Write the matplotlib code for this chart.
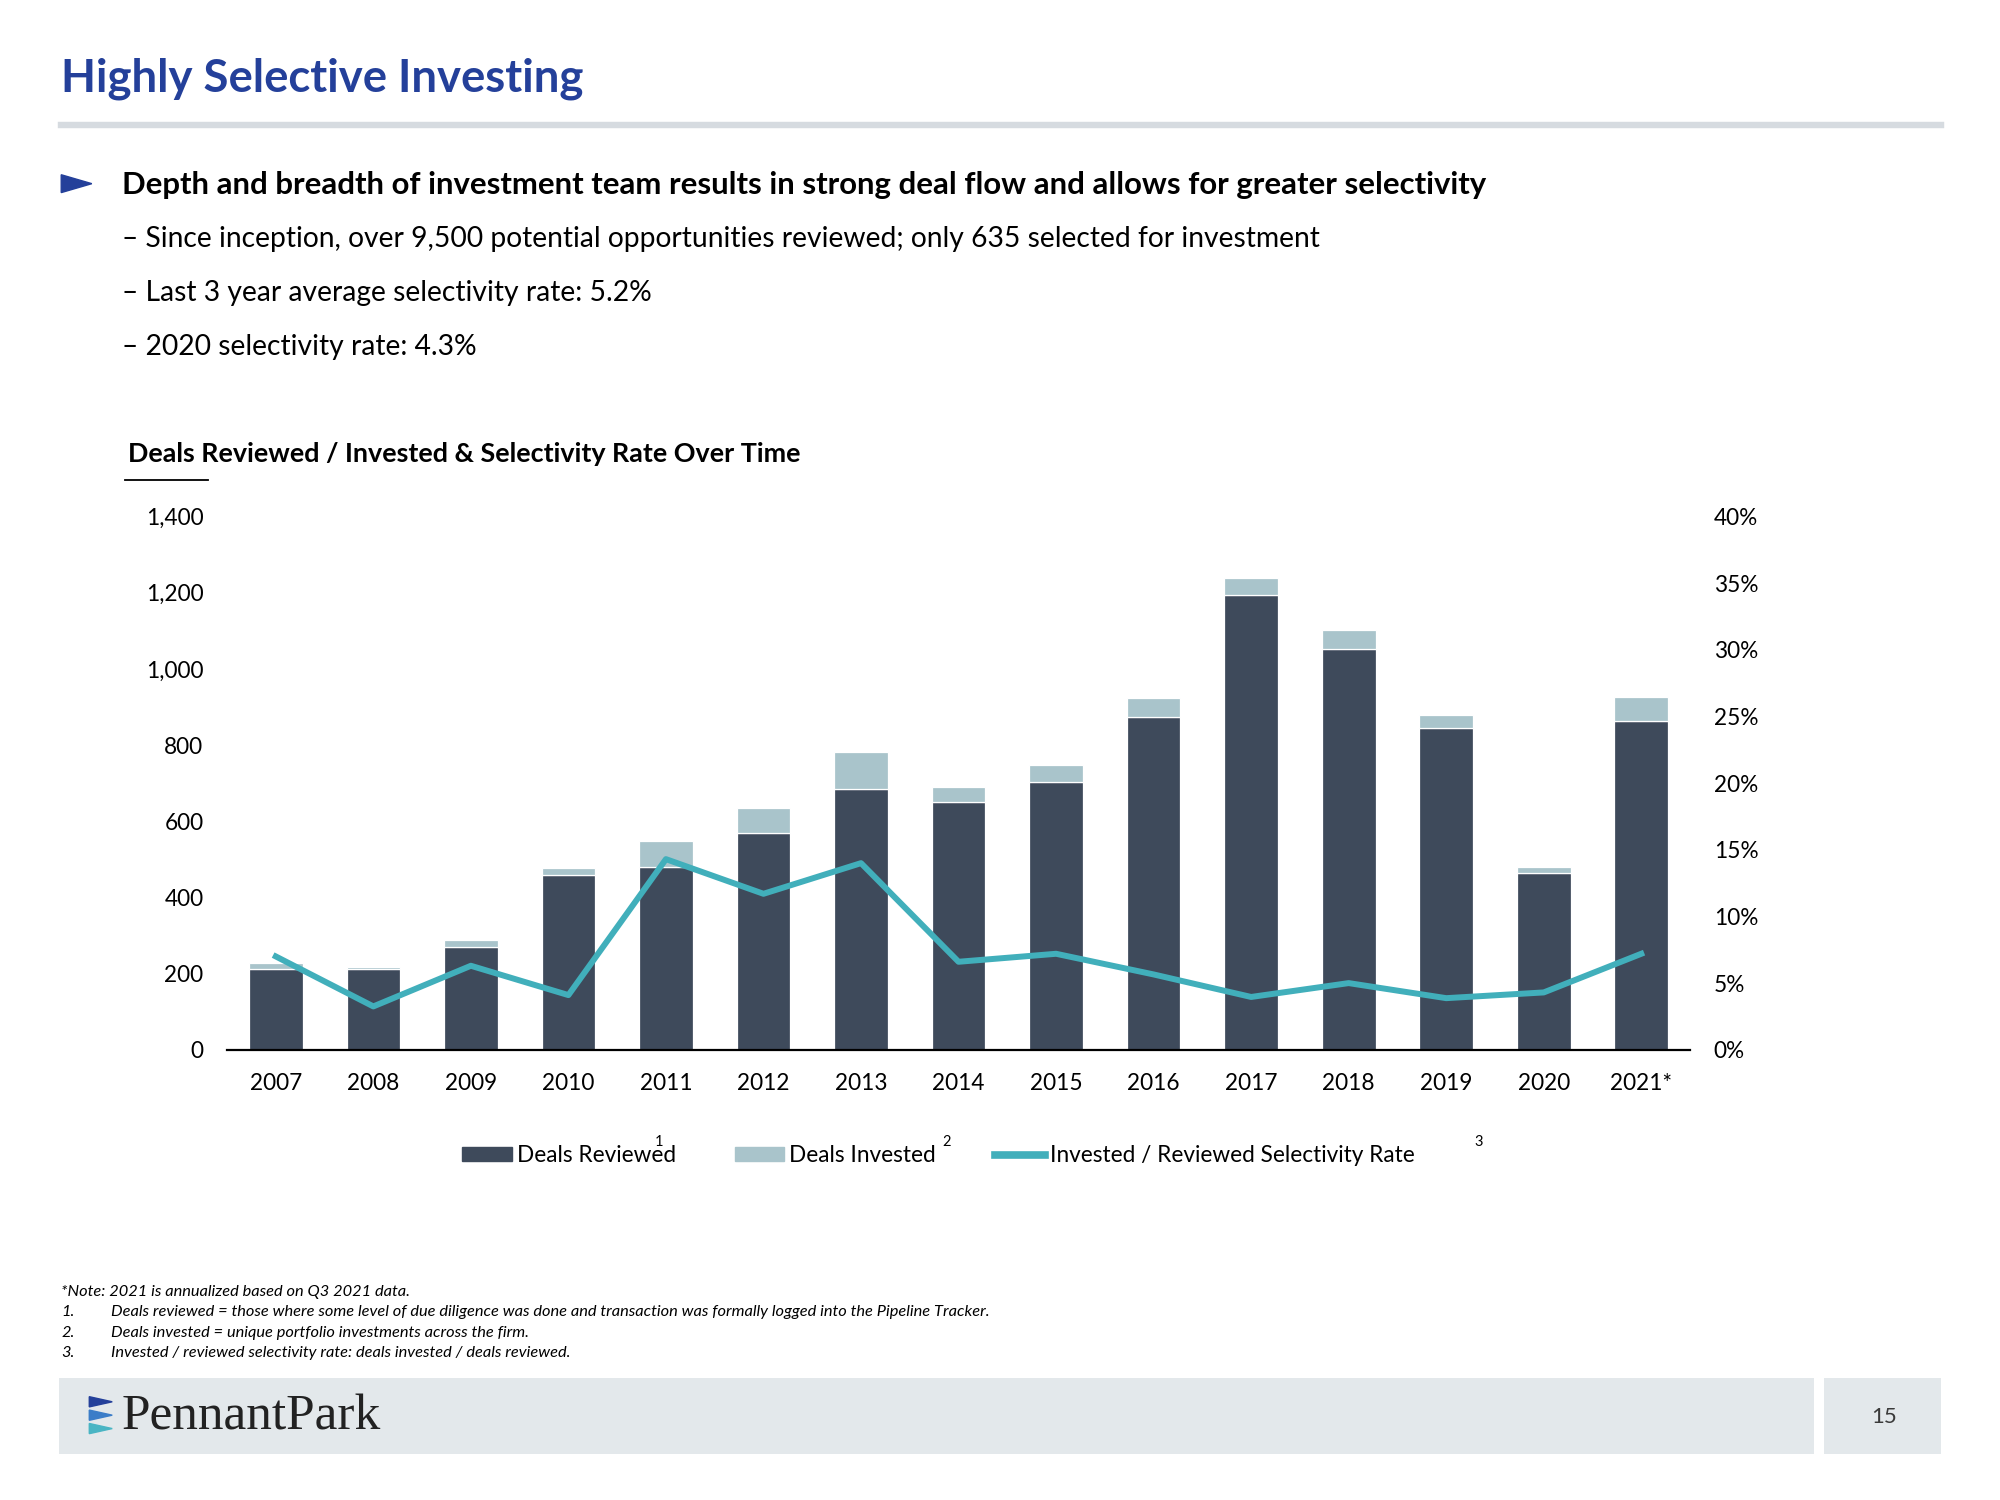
"""
Highly Selective Investing slide: deals reviewed / invested bars with
selectivity rate line on a secondary axis. Writes out.png (2000x1500).
"""
import matplotlib
matplotlib.use("Agg")
import matplotlib.pyplot as plt
from matplotlib.patches import Polygon, Rectangle, Patch
from matplotlib.lines import Line2D
from matplotlib.ticker import FuncFormatter

# --- data ---
years = ["2007", "2008", "2009", "2010", "2011", "2012", "2013", "2014",
         "2015", "2016", "2017", "2018", "2019", "2020", "2021*"]
deals_reviewed = [213, 211, 269, 460, 480, 568, 685, 650, 702, 875, 1194, 1051, 845, 464, 864]
deals_invested = [15, 6, 18, 17, 68, 67, 96, 40, 47, 48, 45, 51, 34, 17, 61]
selectivity_rate = [7.0, 3.25, 6.3, 4.1, 14.3, 11.7, 14.0, 6.6, 7.2, 5.65, 3.96, 5.0, 3.87, 4.3, 7.2]

left_ticks = [0, 200, 400, 600, 800, 1000, 1200, 1400]
right_ticks = [0, 5, 10, 15, 20, 25, 30, 35, 40]

bullet_head = ("Depth and breadth of investment team results in strong deal flow "
               "and allows for greater selectivity")
bullet_subs = ["\u2013 Since inception, over 9,500 potential opportunities reviewed; "
               "only 635 selected for investment",
               "\u2013 Last 3 year average selectivity rate: 5.2%",
               "\u2013 2020 selectivity rate: 4.3%"]
footnotes = [("", "*Note: 2021 is annualized based on Q3 2021 data."),
             ("1.", "Deals reviewed = those where some level of due diligence was done "
                    "and transaction was formally logged into the Pipeline Tracker."),
             ("2.", "Deals invested = unique portfolio investments across the firm."),
             ("3.", "Invested / reviewed selectivity rate: deals invested / deals reviewed.")]

# --- style ---
NAVY = "#24409a"
DARK = "#3e4a5b"
LIGHT = "#a9c4cb"
TEAL = "#41afbb"
BAND = "#e3e8eb"
FONT = "Lato"
plt.rcParams["font.family"] = [FONT, "DejaVu Sans"]

# layout is measured on a 1568x1176 copy of the slide
RW, RH = 1568.0, 1176.0
fx = lambda x: x / RW
fy = lambda y: 1 - y / RH

fig = plt.figure(figsize=(20, 15), dpi=100)

# --- header ---
fig.text(fx(48), fy(72), "Highly Selective Investing", fontsize=32.8, fontweight="bold",
         color=NAVY, va="baseline")
fig.add_artist(Line2D([fx(48), fx(1522)], [fy(98), fy(98)], color="#d6dbe0", lw=4.6))

fig.add_artist(Polygon([[fx(48), fy(137)], [fx(48), fy(151)], [fx(72), fy(144)]],
                       closed=True, color=NAVY, transform=fig.transFigure))
fig.text(fx(96), fy(152), bullet_head, fontsize=22.4, fontweight="bold", va="baseline")
for i, s in enumerate(bullet_subs):
    fig.text(fx(96), fy(194 + 42 * i), s, fontsize=20.3, va="baseline")

fig.text(fx(100), fy(362), "Deals Reviewed / Invested & Selectivity Rate Over Time",
         fontsize=19.4, fontweight="bold", va="baseline")
fig.add_artist(Line2D([fx(98), fx(163)], [fy(376), fy(376)], color="black", lw=1.3))

# --- chart ---
ax = fig.add_axes([fx(178), fy(823), fx(1325) - fx(178), fy(405) - fy(823)])
x = list(range(len(years)))
ax.bar(x, deals_reviewed, width=0.55, color=DARK, edgecolor="white", linewidth=0.9,
       label="Deals Reviewed")
ax.bar(x, deals_invested, width=0.55, bottom=deals_reviewed, color=LIGHT,
       edgecolor="white", linewidth=0.9, label="Deals Invested")
ax.set_xlim(-0.5, len(years) - 0.5)
ax.set_ylim(0, 1400)
ax.set_yticks(left_ticks)
ax.yaxis.set_major_formatter(FuncFormatter(lambda v, p: f"{int(v):,}"))
ax.set_xticks(x)
ax.set_xticklabels(years)
for s in ["top", "right", "left"]:
    ax.spines[s].set_visible(False)
ax.spines["bottom"].set_linewidth(1.6)
ax.spines["bottom"].set_zorder(5)
ax.tick_params(axis="both", length=0, labelsize=16.3, pad=17)

ax2 = ax.twinx()
ax2.plot(x, [v / 100 for v in selectivity_rate], color=TEAL, lw=4.3,
         label="Invested / Reviewed Selectivity Rate")
ax2.set_ylim(0, 0.40)
ax2.set_yticks([t / 100 for t in right_ticks])
ax2.yaxis.set_major_formatter(FuncFormatter(lambda v, p: f"{v * 100:.0f}%"))
for s in ax2.spines.values():
    s.set_visible(False)
ax2.tick_params(axis="y", length=0, labelsize=16.3, pad=17)

# legend across the bottom
handles = [Patch(color=DARK), Patch(color=LIGHT), Line2D([], [], color=TEAL, lw=5.5)]
labels = ["Deals Reviewed", "Deals Invested", "Invested / Reviewed Selectivity Rate"]
fig.legend(handles, labels, loc="center left", bbox_to_anchor=(fx(362), fy(906)),
           ncol=3, frameon=False, fontsize=16.3, handlelength=2.2, handleheight=0.55,
           handletextpad=0.22, columnspacing=2.6, borderpad=0, borderaxespad=0)
for xs, s in [(517, "1"), (742, "2"), (1159, "3")]:
    fig.text(fx(xs), fy(895), s, fontsize=10.5, ha="center", va="center")

# --- footnotes ---
for i, (num, s) in enumerate(footnotes):
    yy = fy(1016 + 16 * i)
    if num:
        fig.text(fx(48), yy, num, fontsize=11.8, style="italic", va="baseline")
        fig.text(fx(87), yy, s, fontsize=11.8, style="italic", va="baseline")
    else:
        fig.text(fx(48), yy, s, fontsize=11.8, style="italic", va="baseline")

# --- footer band with logo and page number ---
fig.add_artist(Rectangle((fx(46), fy(1140)), fx(1422) - fx(46), fy(1080) - fy(1140),
                         transform=fig.transFigure, color=BAND, lw=0))
fig.add_artist(Rectangle((fx(1430), fy(1140)), fx(1522) - fx(1430), fy(1080) - fy(1140),
                         transform=fig.transFigure, color=BAND, lw=0))
fig.text(fx(1477), fy(1111), "15", fontsize=16, color="#3a3a3a", ha="center", va="center")
for k, c in enumerate([NAVY, "#3b7dc8", "#4ab5c4"]):
    yc = 1099 + 10.5 * k
    fig.add_artist(Polygon([[fx(70), fy(yc - 4)], [fx(70), fy(yc + 4)], [fx(88), fy(yc)]],
                           closed=True, color=c, transform=fig.transFigure))
fig.text(fx(95), fy(1121), "PennantPark", fontsize=37, family="Liberation Serif",
         color="#222222", va="baseline")

fig.savefig("out.png", dpi=100, facecolor="white")
